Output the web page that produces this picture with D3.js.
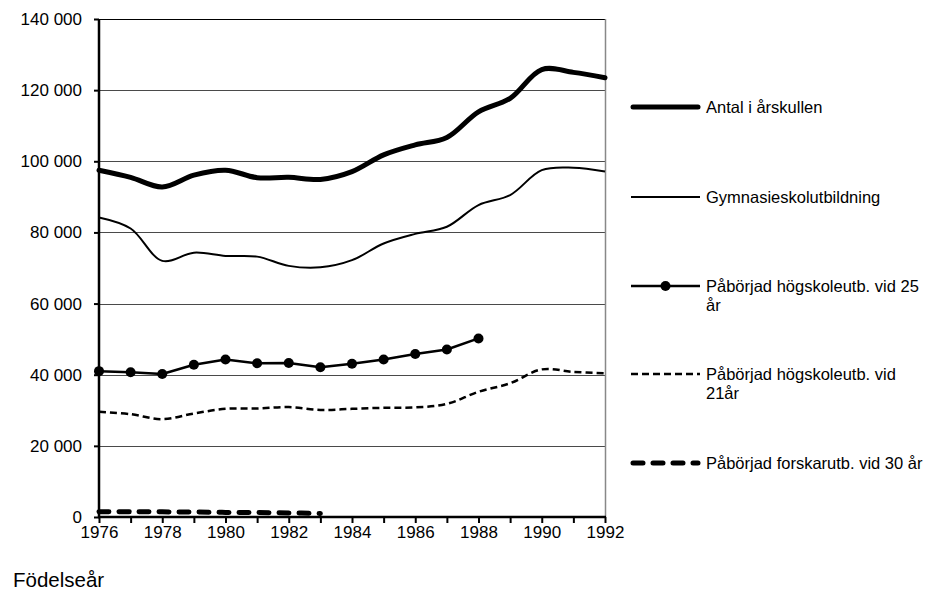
<!DOCTYPE html>
<html>
<head>
<meta charset="utf-8">
<script src="https://cdn.jsdelivr.net/npm/d3@7"></script>
<style>
  html, body { margin: 0; padding: 0; background: #fff; }
  svg { display: block; font-family: "Liberation Sans", Arial, sans-serif; }
</style>
</head>
<body>
<svg id="chart" width="927" height="592"></svg>
<script>
// ---- data ----
const years = [1976,1977,1978,1979,1980,1981,1982,1983,1984,1985,1986,1987,1988,1989,1990,1991,1992];
const antal = [97500,95500,92800,96100,97500,95400,95500,94900,97100,101800,104600,106700,113900,117700,125800,125000,123500];
const gymnasie = [84200,81100,72000,74300,73400,73200,70600,70200,72200,76900,79600,81600,87700,90500,97500,98200,97100];
const hogskola25 = [41000,40700,40200,42800,44300,43200,43300,42100,43100,44300,45800,47100,50200];
const hogskola21 = [29600,28900,27500,29100,30400,30500,30900,30100,30400,30700,30800,31800,35200,37600,41500,40800,40400];
const forskar30 = [1500,1500,1450,1400,1300,1250,1150,1000];
const seriesNames = [
  ["Antal i årskullen"],
  ["Gymnasieskolutbildning"],
  ["Påbörjad högskoleutb. vid 25", "år"],
  ["Påbörjad högskoleutb. vid", "21år"],
  ["Påbörjad forskarutb. vid 30 år"]
];
const yTicks = [0,20000,40000,60000,80000,100000,120000,140000];
const xLabelYears = [1976,1978,1980,1982,1984,1986,1988,1990,1992];
const xAxisTitle = "Födelseår";

// ---- layout ----
const svg = d3.select("#chart");
const x = d3.scaleLinear().domain([1976, 1992]).range([99, 605]);
const y = d3.scaleLinear().domain([0, 140000]).range([517, 19]);
const locale = d3.formatLocale({decimal: ",", thousands: " ", grouping: [3], currency: ["", ""]});
const fmt = locale.format(",d");

// gridlines
svg.append("g").selectAll("line").data(yTicks.filter(d => d > 0)).join("line")
  .attr("x1", x(1976)).attr("x2", x(1992))
  .attr("y1", d => Math.round(y(d)) + 0.5).attr("y2", d => Math.round(y(d)) + 0.5)
  .attr("stroke", d => d === 140000 ? "#000" : "#4a4a4a").attr("stroke-width", 1);

// right border
svg.append("line").attr("x1", x(1992) + 0.5).attr("x2", x(1992) + 0.5)
  .attr("y1", y(140000)).attr("y2", y(0)).attr("stroke", "#888").attr("stroke-width", 1.5);

// y axis
const yAxis = svg.append("g").attr("transform", `translate(${x(1976)},0)`)
  .call(d3.axisLeft(y).tickValues(yTicks).tickSize(5).tickPadding(12).tickFormat(fmt));
yAxis.select(".domain").remove();
yAxis.selectAll(".tick line").attr("stroke", "#000").attr("stroke-width", 2);
yAxis.selectAll(".tick text").attr("font-size", 17).attr("fill", "#000")
  .attr("font-family", "Liberation Sans, Arial, sans-serif");

// x axis
const xAxis = svg.append("g").attr("transform", `translate(0,${y(0)})`)
  .call(d3.axisBottom(x).tickValues(years).tickSize(6).tickPadding(3)
    .tickFormat(d => xLabelYears.includes(d) ? String(d) : ""));
xAxis.select(".domain").remove();
xAxis.selectAll(".tick line").attr("stroke", "#000").attr("stroke-width", 2);
xAxis.selectAll(".tick text").attr("font-size", 17).attr("fill", "#000")
  .attr("font-family", "Liberation Sans, Arial, sans-serif");

// axis lines
svg.append("line").attr("x1", x(1976)).attr("x2", x(1976)).attr("y1", y(140000)).attr("y2", y(0) + 1)
  .attr("stroke", "#000").attr("stroke-width", 2.5);
svg.append("line").attr("x1", x(1976) - 1).attr("x2", x(1992) + 1).attr("y1", y(0)).attr("y2", y(0))
  .attr("stroke", "#000").attr("stroke-width", 2.5);

// series
const smooth = d3.line().x((d, i) => x(years[i])).y(d => y(d)).curve(d3.curveCatmullRom.alpha(0.5));
const straight = d3.line().x((d, i) => x(years[i])).y(d => y(d));

const styles = [
  {w: 5, dash: null, cap: "round"},
  {w: 2, dash: null, cap: "butt"},
  {w: 2.5, dash: null, cap: "butt", marker: true},
  {w: 2.5, dash: "7,4", cap: "butt"},
  {w: 5, dash: "10,10", cap: "round"}
];
const seriesData = [antal, gymnasie, hogskola25, hogskola21, forskar30];

const plot = svg.append("g");
seriesData.forEach((vals, k) => {
  const st = styles[k];
  const gen = st.marker ? straight : smooth;
  plot.append("path").attr("d", gen(vals))
    .attr("fill", "none").attr("stroke", "#000")
    .attr("stroke-width", st.w).attr("stroke-linecap", st.cap).attr("stroke-linejoin", "round")
    .attr("stroke-dasharray", st.dash);
  if (st.marker) {
    plot.selectAll(null).data(vals).join("circle")
      .attr("cx", (d, i) => x(years[i])).attr("cy", d => y(d)).attr("r", 5).attr("fill", "#000");
  }
});

// legend
const legendY = [107, 197, 286, 374, 463];
const legend = svg.append("g");
seriesNames.forEach((lines, k) => {
  const st = styles[k];
  const ly = legendY[k];
  legend.append("line").attr("x1", st.cap === "round" ? 633 : 631).attr("x2", st.cap === "round" ? 698 : 700)
    .attr("y1", ly).attr("y2", ly)
    .attr("stroke", "#000").attr("stroke-width", st.w).attr("stroke-linecap", st.cap)
    .attr("stroke-dasharray", st.dash);
  if (st.marker) legend.append("circle").attr("cx", 665.5).attr("cy", ly).attr("r", 5).attr("fill", "#000");
  const t = legend.append("text").attr("x", 706).attr("y", ly + 6)
    .attr("font-size", 16.5).attr("fill", "#000");
  lines.forEach((ln, j) => {
    t.append("tspan").attr("x", 706).attr("dy", j === 0 ? 0 : 19).text(ln);
  });
});

// x axis title
svg.append("text").attr("x", 13).attr("y", 587).attr("font-size", 20.5).attr("fill", "#000").text(xAxisTitle);
</script>
</body>
</html>
